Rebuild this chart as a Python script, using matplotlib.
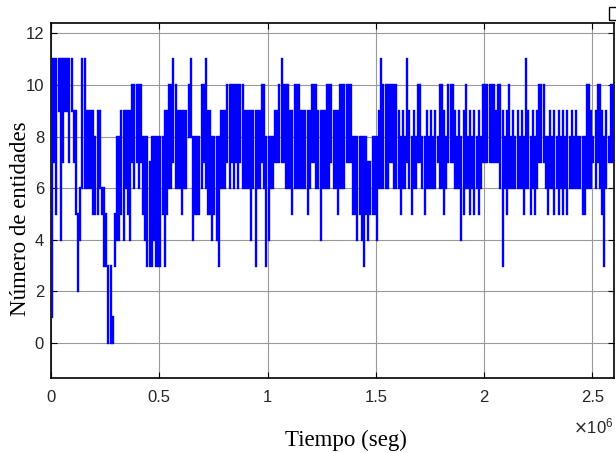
import numpy as np
import matplotlib
matplotlib.use('Agg')
import matplotlib.pyplot as plt
from matplotlib.patches import Rectangle

# the signal switches much faster than the picture resolves, so it is read
# as the range (lowest / highest value) it covers in every 1e4 s window
dt = 1e4
ent_max = [11, 11, 11, 11, 11, 11, 11, 11, 11, 11,
           9, 9, 5, 6, 11, 11, 9, 9, 9, 9,
           8, 9, 9, 6, 6, 5, 3, 3, 1, 5,
           8, 8, 9, 9, 9, 9, 9, 10, 10, 10,
           10, 10, 8, 8, 8, 7, 8, 8, 8, 8,
           8, 8, 9, 9, 10, 10, 11, 10, 9, 9,
           9, 9, 9, 10, 11, 8, 8, 8, 8, 10,
           10, 11, 9, 9, 8, 8, 8, 8, 9, 9,
           9, 10, 10, 10, 10, 10, 10, 10, 10, 9,
           9, 9, 9, 9, 9, 9, 9, 10, 10, 8,
           8, 8, 8, 9, 9, 10, 11, 10, 10, 10,
           9, 9, 10, 10, 10, 9, 9, 9, 9, 9,
           10, 10, 10, 9, 9, 9, 9, 10, 10, 10,
           9, 9, 9, 10, 10, 10, 10, 10, 10, 8,
           8, 8, 8, 8, 8, 8, 7, 7, 8, 8,
           8, 9, 11, 10, 10, 10, 10, 10, 10, 10,
           9, 8, 9, 8, 11, 9, 8, 9, 8, 10,
           10, 8, 8, 9, 8, 9, 8, 9, 8, 10,
           10, 9, 8, 10, 10, 10, 9, 8, 9, 8,
           9, 10, 8, 9, 8, 9, 8, 9, 8, 10,
           10, 10, 10, 10, 10, 9, 10, 10, 9, 8,
           9, 10, 8, 9, 8, 9, 8, 9, 8, 11,
           9, 8, 9, 8, 9, 10, 10, 10, 8, 8,
           9, 8, 9, 8, 9, 8, 9, 8, 9, 8,
           9, 8, 9, 8, 8, 8, 8, 10, 10, 9,
           8, 9, 10, 10, 9, 8, 9, 8, 10, 10]
ent_min = [1, 7, 5, 9, 4, 7, 9, 9, 7, 9,
           7, 5, 2, 4, 6, 6, 6, 6, 6, 5,
           5, 5, 6, 5, 3, 3, 0, 0, 0, 3,
           4, 4, 5, 4, 6, 5, 4, 7, 6, 7,
           6, 7, 5, 4, 3, 3, 3, 4, 3, 3,
           3, 5, 3, 5, 6, 6, 7, 6, 6, 6,
           5, 6, 6, 8, 8, 4, 5, 5, 5, 6,
           7, 6, 5, 5, 4, 5, 4, 3, 6, 6,
           6, 7, 6, 7, 6, 7, 6, 7, 6, 6,
           6, 6, 4, 6, 3, 6, 6, 7, 6, 3,
           4, 6, 6, 7, 7, 7, 7, 7, 6, 6,
           6, 5, 6, 6, 6, 6, 6, 6, 5, 6,
           7, 7, 6, 6, 4, 6, 6, 6, 6, 7,
           6, 6, 5, 6, 6, 6, 7, 7, 7, 5,
           5, 4, 5, 4, 3, 5, 4, 5, 5, 5,
           4, 6, 6, 6, 6, 6, 7, 7, 6, 6,
           6, 5, 6, 6, 7, 6, 5, 6, 6, 7,
           7, 6, 5, 6, 6, 6, 6, 6, 7, 6,
           6, 5, 6, 7, 7, 7, 6, 6, 6, 4,
           5, 6, 6, 5, 6, 5, 6, 5, 6, 7,
           7, 7, 7, 7, 7, 7, 7, 6, 3, 6,
           5, 6, 6, 6, 6, 6, 6, 6, 5, 6,
           6, 5, 6, 5, 6, 7, 7, 7, 6, 5,
           6, 6, 5, 6, 5, 6, 5, 6, 5, 6,
           6, 6, 6, 6, 6, 5, 5, 6, 6, 6,
           7, 6, 7, 6, 5, 3, 6, 7, 7, 7]
t = (np.arange(len(ent_max)) + 0.5) * dt

x_ticks = [0, 0.5e6, 1e6, 1.5e6, 2e6, 2.5e6]
x_labels = ['0', '0.5', '1', '1.5', '2', '2.5']
y_ticks = [0, 2, 4, 6, 8, 10, 12]

fig = plt.figure(figsize=(6.16, 4.53), dpi=100)
ax = fig.add_axes([0.0828, 0.1656, 0.914, 0.7837])

ax.vlines(t, ent_min, ent_max, color='#0000ff', lw=1.7, capstyle='projecting', zorder=3)

ax.set_xlim(0, 2.6e6)
ax.set_ylim(-1.35, 12.4)
ax.set_yticks(y_ticks)
ax.set_xticks(x_ticks)
ax.set_xticklabels(x_labels)
ax.text(1.0, -0.155, r'$\times\mathregular{10^{6}}$', transform=ax.transAxes,
        ha='right', va='baseline', fontsize=12, family='Liberation Sans',
        color='#262626')

ax.grid(True, color='0.6', lw=0.8)
ax.tick_params(direction='in', top=True, right=True, length=4, width=0.8,
               labelsize=12, labelcolor='#262626')
ax.tick_params(axis='x', pad=9)
ax.tick_params(axis='y', pad=5)
for lab in ax.get_xticklabels() + ax.get_yticklabels():
    lab.set_family('Liberation Sans')
for s in ax.spines.values():
    s.set_linewidth(1.2)

ax.set_xlabel('Tiempo (seg)', family='Liberation Serif', fontsize=16.5)
ax.set_ylabel('Número de entidades', family='Liberation Serif', fontsize=16.5)
ax.xaxis.set_label_coords(0.524, -0.146)
ax.yaxis.set_label_coords(-0.036, 0.449)

fig.add_artist(Rectangle((0.989, 0.955), 0.02, 0.03, transform=fig.transFigure,
                         fill=False, edgecolor='k', lw=1))

fig.savefig('out.png', dpi=100)
